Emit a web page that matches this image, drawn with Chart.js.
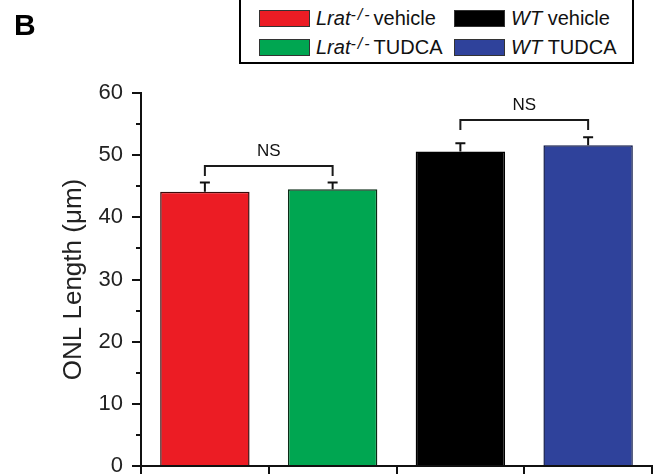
<!DOCTYPE html>
<html>
<head>
<meta charset="utf-8">
<script src="https://cdn.jsdelivr.net/npm/chart.js@4"></script>
<style>
  html, body { margin: 0; padding: 0; background: #fff; }
  #wrap { position: relative; width: 653px; height: 474px; overflow: hidden; font-family: "Liberation Sans", Arial, sans-serif; }
  #c { position: absolute; left: 0; top: 0; }
  #panel { position: absolute; left: 14px; top: 8px; font-weight: bold; font-size: 30px; color: #000; }
  #legend { position: absolute; left: 239px; top: -4px; width: 395px; height: 68px; border: 2px solid #000; box-sizing: border-box; background: #fff; }
  .item { position: absolute; height: 18px; display: flex; align-items: center; font-size: 20px; color: #111; white-space: nowrap; }
  .sw { width: 51px; height: 17px; border: 1px solid #333; margin-right: 6px; box-sizing: border-box; }
  .it { font-style: italic; }
  sup { font-size: 16px; font-style: italic; position: relative; top: -3px; vertical-align: super; line-height: 0; letter-spacing: 2px; margin-right: 2px; }
</style>
</head>
<body>
<div id="wrap">
  <canvas id="c" width="653" height="474"></canvas>
  <div id="panel">B</div>
  <div id="legend"></div>
</div>
<script>
// ---- data ----
const categories = ['Lrat-/- vehicle', 'Lrat-/- TUDCA', 'WT vehicle', 'WT TUDCA'];
const genotype = ['Lrat', 'Lrat', 'WT', 'WT'];
const genotypeSup = ['-/-', '-/-', '', ''];
const treatment = ['vehicle', 'TUDCA', 'vehicle', 'TUDCA'];
const means = [44.1, 44.5, 50.6, 51.6];
const errors = [1.5, 1.1, 1.3, 1.3];
const barColors = ['#ec1c24', '#00a651', '#000000', '#2f429b'];
const barBorders = ['#3a0a0a', '#0a2a14', '#000000', '#101a4a'];
const yTicks = [0, 10, 20, 30, 40, 50, 60];
const yMinorTicks = [5, 15, 25, 35, 45, 55];
const yTitle = 'ONL Length (\u03bcm)';
// significance brackets: [from index, to index, level, label]
const bracketFrom = [0, 2];
const bracketTo = [1, 3];
const bracketLevel = [48.3, 55.7];
const bracketLabel = ['NS', 'NS'];

// ---- legend (HTML, for mixed italic text) ----
const legend = document.getElementById('legend');
const legendPos = [[18, 11], [18, 40], [213, 11], [213, 40]];
categories.forEach((c, i) => {
  const d = document.createElement('div');
  d.className = 'item';
  d.style.left = legendPos[i][0] + 'px';
  d.style.top = legendPos[i][1] + 'px';
  const sw = document.createElement('div');
  sw.className = 'sw';
  sw.style.background = barColors[i];
  d.appendChild(sw);
  const g = document.createElement('span');
  g.className = 'it';
  g.textContent = genotype[i];
  d.appendChild(g);
  if (genotypeSup[i]) {
    const s = document.createElement('sup');
    s.textContent = genotypeSup[i];
    d.appendChild(s);
  } else {
    d.appendChild(document.createTextNode('\u00a0'));
  }
  d.appendChild(document.createTextNode(treatment[i]));
  legend.appendChild(d);
});

// ---- plugin: minor ticks, error bars, brackets ----
const extras = {
  id: 'extras',
  afterDatasetsDraw(chart) {
    const ctx = chart.ctx;
    const x = chart.scales.x, y = chart.scales.y;
    ctx.save();
    // minor ticks
    ctx.strokeStyle = '#111';
    ctx.lineWidth = 2;
    yMinorTicks.forEach(v => {
      const py = Math.round(y.getPixelForValue(v));
      ctx.beginPath();
      ctx.moveTo(x.left - 5, py);
      ctx.lineTo(x.left, py);
      ctx.stroke();
    });
    // error bars (upper)
    ctx.strokeStyle = '#111';
    ctx.lineWidth = 2;
    means.forEach((m, i) => {
      const px = x.getPixelForValue(i);
      const top = y.getPixelForValue(m + errors[i]);
      const base = y.getPixelForValue(m);
      ctx.beginPath();
      ctx.moveTo(px, base);
      ctx.lineTo(px, top);
      ctx.moveTo(px - 5, top);
      ctx.lineTo(px + 5, top);
      ctx.stroke();
    });
    // brackets
    ctx.strokeStyle = '#1a1a1a';
    ctx.lineWidth = 2;
    ctx.fillStyle = '#111';
    ctx.font = '17px "Liberation Sans", Arial, sans-serif';
    ctx.textAlign = 'center';
    ctx.textBaseline = 'alphabetic';
    bracketLevel.forEach((lv, k) => {
      const x1 = x.getPixelForValue(bracketFrom[k]);
      const x2 = x.getPixelForValue(bracketTo[k]);
      const py = Math.round(y.getPixelForValue(lv));
      ctx.beginPath();
      ctx.moveTo(x1, py + 10);
      ctx.lineTo(x1, py);
      ctx.lineTo(x2, py);
      ctx.lineTo(x2, py + 10);
      ctx.stroke();
      ctx.fillText(bracketLabel[k], (x1 + x2) / 2, py - 10);
    });
    ctx.restore();
  }
};

new Chart(document.getElementById('c'), {
  type: 'bar',
  data: {
    labels: categories,
    datasets: [{
      data: means,
      backgroundColor: barColors,
      borderColor: barBorders,
      borderWidth: 1.5,
      borderSkipped: 'bottom',
      barPercentage: 0.70,
      categoryPercentage: 1.0
    }]
  },
  options: {
    responsive: false,
    animation: false,
    layout: { padding: { top: 93, right: 1, bottom: 0, left: 0 } },
    plugins: { legend: { display: false }, tooltip: { enabled: false } },
    scales: {
      x: {
        type: 'category',
        offset: true,
        grid: { display: true, offset: true, drawOnChartArea: false, tickLength: 8, color: '#111', lineWidth: 2 },
        border: { display: true, color: '#111', width: 2 },
        ticks: { display: false },
        afterFit: s => { s.height = 8; s.paddingLeft = 0; s.paddingRight = 0; }
      },
      y: {
        min: 0, max: 60,
        afterBuildTicks: s => { s.ticks = yTicks.map(v => ({ value: v })); },
        grid: { display: true, drawOnChartArea: false, tickLength: 9, color: '#111', lineWidth: 2 },
        border: { display: true, color: '#111', width: 2 },
        ticks: {
          padding: 9,
          color: '#222',
          font: { family: '"Liberation Sans", Arial, sans-serif', size: 22 },
          callback: v => String(v)
        },
        title: {
          display: true,
          text: yTitle,
          color: '#222',
          font: { family: '"Liberation Sans", Arial, sans-serif', size: 26 },
          padding: { top: 58, bottom: 0 }
        },
        afterFit: s => { s.width = 141; s.paddingTop = 0; s.paddingBottom = 0; }
      }
    }
  },
  plugins: [extras]
});
</script>
</body>
</html>
